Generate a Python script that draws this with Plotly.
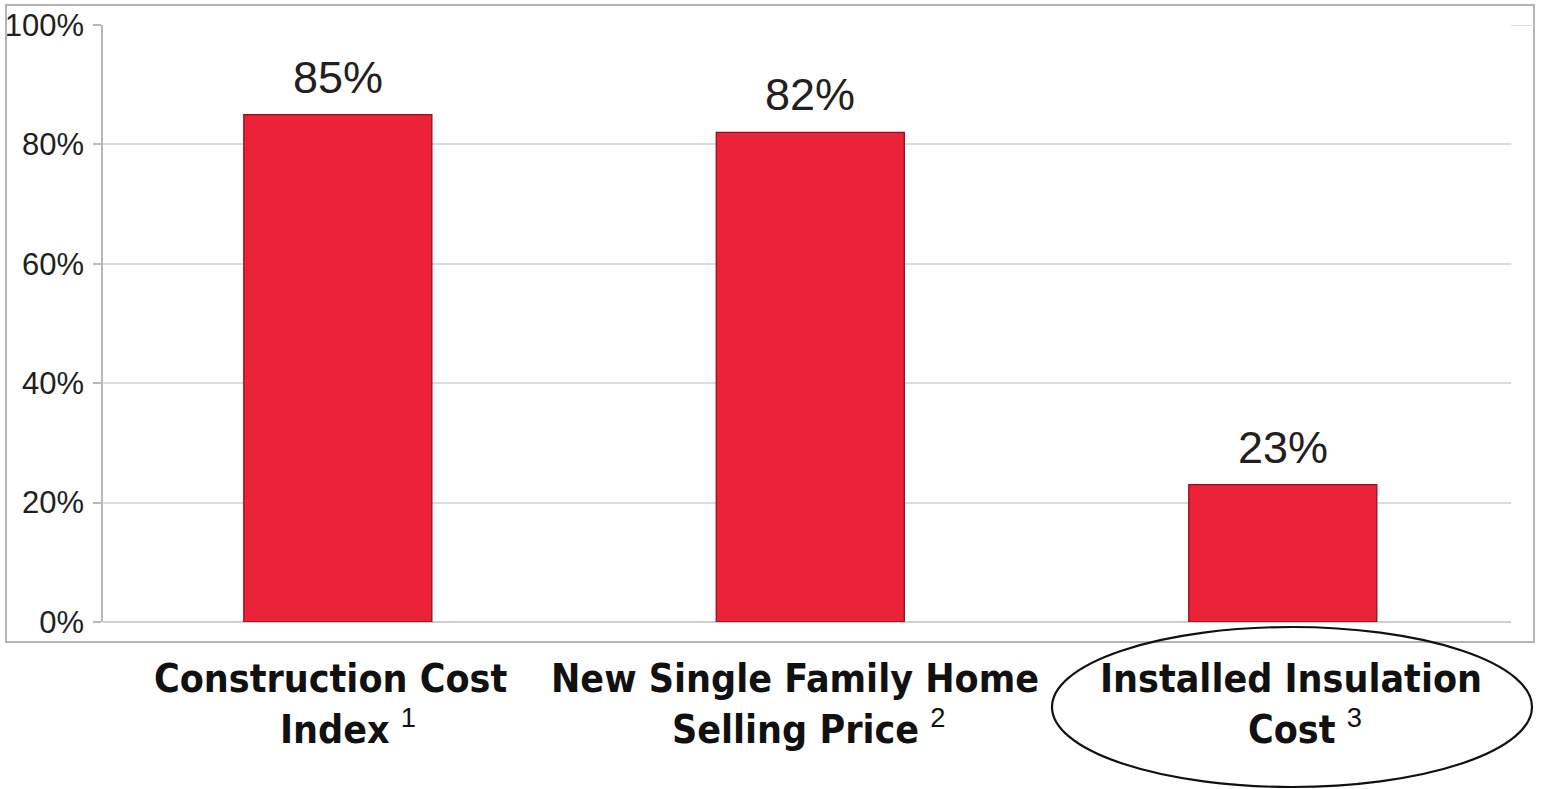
import plotly.graph_objects as go

categories = ["Construction Cost<br>Index", "New Single Family Home<br>Selling Price", "Installed Insulation<br>Cost"]
footnotes = ["1", "2", "3"]
values = [0.85, 0.82, 0.23]
value_labels = ["85%", "82%", "23%"]
y_ticks = [0, 0.2, 0.4, 0.6, 0.8, 1.0]
y_tick_labels = ["0%", "20%", "40%", "60%", "80%", "100%"]

W, H = 1541, 789
L, R, T, B = 103, 30, 25, 167
pw, ph = W - L - R, H - T - B

def px_x(x):
    return (x - L) / pw

def px_y(y):
    return (H - B - y) / ph

xs = list(range(len(categories)))
line1_xshift = [-7, -15, 8]
line2_xshift = [10, -2, 22]

fig = go.Figure()
fig.add_trace(go.Bar(
    x=xs, y=values, width=0.398,
    marker=dict(color="#EC2338", line=dict(color="#8A1320", width=1.3)),
    hoverinfo="skip",
))

annotations = []
for i, (v, lab) in enumerate(zip(values, value_labels)):
    annotations.append(dict(
        x=i, y=v, xref="x", yref="y", text=lab, showarrow=False,
        yanchor="bottom", yshift=10,
        font=dict(family="Liberation Sans, Arial, sans-serif", size=45, color="#231F20"),
    ))

label_font = dict(family="DejaVu Sans Condensed, Liberation Sans Narrow, Arial Narrow, sans-serif",
                  size=39, color="#111111")
for i, (cat, fn) in enumerate(zip(categories, footnotes)):
    first, second = cat.split("<br>")
    annotations.append(dict(
        x=i, y=px_y(654), xref="x", yref="paper", text="<b>" + first + "</b>",
        showarrow=False, yanchor="top", xanchor="center", xshift=line1_xshift[i],
        font=label_font,
    ))
    annotations.append(dict(
        x=i, y=px_y(700), xref="x", yref="paper",
        text="<b>" + second + "</b> <span style='font-family:Liberation Sans'><sup>" + fn + "</sup></span>",
        showarrow=False, yanchor="top", xanchor="center", xshift=line2_xshift[i],
        font=label_font,
    ))

shapes = [
    # outer chart frame
    dict(type="rect", xref="paper", yref="paper",
         x0=px_x(6), x1=px_x(1534), y0=px_y(642), y1=px_y(5),
         line=dict(color="#B4B4B4", width=2), layer="below"),
    # top gridline extension to frame
    dict(type="line", xref="paper", yref="y", x0=1.0, x1=px_x(1534), y0=1.0, y1=1.0,
         line=dict(color="#DCDCDC", width=2), layer="below"),
    # highlight ellipse
    dict(type="circle", xref="paper", yref="paper",
         x0=px_x(1052), x1=px_x(1532), y0=px_y(787), y1=px_y(627),
         line=dict(color="#111111", width=2.2)),
]

fig.update_layout(
    width=W, height=H,
    margin=dict(l=L, r=R, t=T, b=B),
    paper_bgcolor="white", plot_bgcolor="white",
    showlegend=False,
    annotations=annotations,
    shapes=shapes,
    xaxis=dict(range=[-0.497, 2.483], showticklabels=False, showgrid=False,
               zeroline=False, showline=False, ticks="", automargin=False),
    yaxis=dict(range=[0, 1.0], tickvals=y_ticks, ticktext=y_tick_labels,
               automargin=False,
               showgrid=True, gridcolor="#DCDCDC", gridwidth=2,
               zeroline=True, zerolinecolor="#D0D0D0", zerolinewidth=2,
               showline=True, linecolor="#B8B8B8", linewidth=1.5,
               ticks="outside", ticklen=8, tickcolor="#B8B8B8", tickwidth=1.5,
               ticklabelstandoff=3,
               tickfont=dict(family="Liberation Sans, Arial, sans-serif", size=31, color="#231F20")),
)

fig.write_html("out.html", config={"displayModeBar": False},
               post_script="document.body.style.margin='0';document.body.style.overflow='hidden';")
